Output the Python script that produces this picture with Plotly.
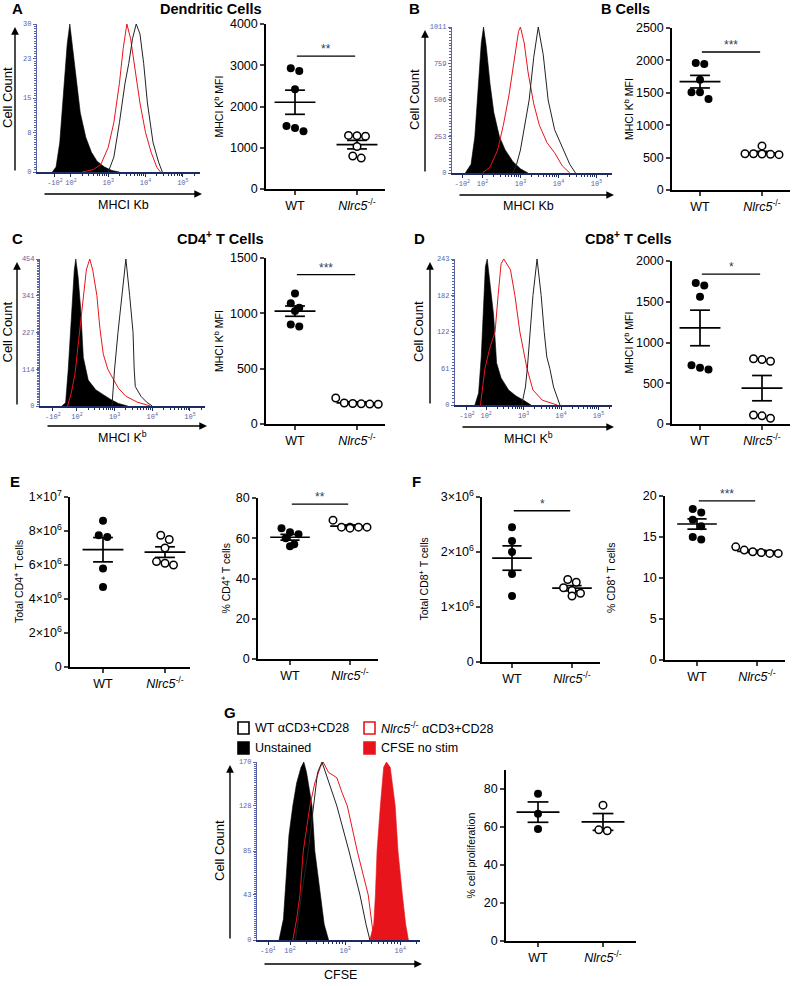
import plotly.graph_objects as go
import numpy as np

W, H = 795, 986
FONT = "Liberation Sans, Arial, sans-serif"
MONO = "Liberation Mono, DejaVu Sans Mono, monospace"
HIST_BLUE = "#5a63a6"
AXIS_NAVY = "#1d2b63"
RED = "#e8141b"

# ---------------- data ----------------
groups = ["WT", "<i>Nlrc5</i><sup>-/-</sup>"]

# dot plots (MFI / counts / percentages)
dc_wt = [2860, 2930, 2420, 1530, 1400, 1480]
dc_ko = [1290, 1280, 1300, 1030, 800, 750]
bcell_wt = [1945, 1960, 1700, 1510, 1405, 1510]
bcell_ko = [680, 560, 550, 545, 555, 560]
cd4_wt = [1180, 1090, 1050, 1020, 900, 880]
cd4_ko = [185, 180, 178, 182, 190, 235]
cd8_wt = [1700, 1730, 1560, 720, 690, 670]
cd8_ko = [800, 770, 790, 110, 70, 100]
cd4_total_wt = [8.6e6, 7.65e6, 7.75e6, 5.8e6, 4.7e6]
cd4_total_ko = [7.75e6, 7.5e6, 7.0e6, 6.2e6, 6.0e6, 6.1e6]
cd4_pct_wt = [63, 62, 65, 60, 57, 56]
cd4_pct_ko = [69, 65.5, 65.5, 65.5, 65.5, 65]
cd8_total_wt = [2.45e6, 2.2e6, 2.0e6, 1.6e6, 1.2e6]
cd8_total_ko = [1.5e6, 1.45e6, 1.35e6, 1.3e6, 1.25e6, 1.2e6]
cd8_pct_wt = [18.4, 17.1, 18.0, 16.3, 14.7, 15.0]
cd8_pct_ko = [13.4, 13.1, 13.0, 13.0, 13.2, 13.8]
prolif_wt = [77.5, 67, 59]
prolif_ko = [71.5, 58, 58.5]

# flow histograms: (position in decades, cell count)
a_unstained = [(1.5, 0), (1.6, 1), (1.7, 6), (1.8, 16), (1.9, 26), (1.97, 30), (2.05, 25), (2.15, 18),
               (2.25, 12), (2.4, 7), (2.55, 4), (2.7, 2.2), (2.9, 1.0), (3.1, 0.3), (3.3, 0)]
a_ko = [(2.3, 0), (2.6, 0.5), (2.8, 1.5), (3.0, 5), (3.15, 10), (3.3, 18), (3.4, 25), (3.5, 30), (3.6, 27),
        (3.7, 22), (3.85, 14), (4.0, 8), (4.15, 4), (4.3, 1), (4.4, 0)]
a_wt = [(3.0, 0), (3.15, 3), (3.3, 10), (3.45, 18), (3.55, 22), (3.65, 27), (3.75, 30), (3.85, 28),
        (3.95, 22), (4.05, 14), (4.2, 6), (4.35, 2), (4.45, 0)]

b_unstained = [(1.55, 0), (1.7, 60), (1.8, 250), (1.9, 600), (1.97, 900), (2.03, 1011), (2.1, 880),
               (2.2, 620), (2.3, 420), (2.45, 250), (2.6, 160), (2.8, 80), (3.0, 30), (3.2, 0)]
b_ko = [(2.0, 0), (2.2, 40), (2.4, 159), (2.55, 330), (2.7, 540), (2.85, 800), (2.95, 980), (3.0, 1011),
        (3.1, 900), (3.2, 700), (3.35, 480), (3.5, 330), (3.7, 210), (3.9, 140), (4.1, 50), (4.3, 0)]
b_wt = [(2.8, 0), (2.9, 60), (3.0, 159), (3.1, 300), (3.23, 505), (3.35, 800), (3.47, 1011), (3.6, 820),
        (3.73, 505), (3.9, 300), (4.13, 159), (4.3, 60), (4.45, 0)]

c_unstained = [(1.6, 0), (1.7, 10), (1.77, 114), (1.85, 280), (1.93, 420), (1.97, 454), (2.03, 400),
               (2.1, 300), (2.17, 150), (2.3, 80), (2.5, 50), (2.7, 35), (2.9, 20), (3.1, 8), (3.35, 0)]
c_ko = [(1.75, 0), (1.85, 40), (1.95, 100), (2.05, 200), (2.15, 320), (2.25, 420), (2.34, 454), (2.42, 420),
        (2.53, 341), (2.61, 240), (2.7, 160), (2.82, 114), (2.95, 86), (3.1, 55), (3.3, 30), (3.6, 12),
        (3.95, 0)]
c_wt = [(2.93, 0), (3.0, 114), (3.09, 227), (3.19, 341), (3.3, 454), (3.4, 341), (3.49, 227), (3.52, 114),
        (3.55, 60), (3.7, 30), (3.85, 12), (4.0, 0)]

d_unstained = [(1.7, 0), (1.8, 20), (1.87, 80), (1.93, 160), (1.98, 230), (2.03, 243), (2.1, 200),
               (2.2, 150), (2.28, 70), (2.4, 45), (2.6, 25), (2.8, 15), (3.0, 8), (3.2, 0)]
d_ko = [(1.85, 0), (1.97, 61), (2.1, 95), (2.24, 122), (2.32, 182), (2.4, 235), (2.47, 243), (2.55, 235),
        (2.65, 225), (2.77, 182), (2.9, 122), (3.0, 90), (3.09, 61), (3.25, 25), (3.5, 8), (3.9, 0)]
d_wt = [(2.95, 0), (3.05, 30), (3.1, 61), (3.17, 122), (3.25, 182), (3.36, 243), (3.47, 182), (3.55, 122),
        (3.62, 80), (3.7, 61), (3.8, 30), (3.97, 0)]

g_unstained = [(1.8, 0), (1.88, 20), (1.93, 60), (1.98, 100), (2.05, 128), (2.12, 150), (2.2, 165),
               (2.25, 170), (2.3, 160), (2.4, 128), (2.45, 85), (2.55, 43), (2.62, 15), (2.7, 0)]
g_ko = [(2.05, 0), (2.12, 20), (2.18, 43), (2.24, 85), (2.36, 128), (2.45, 150), (2.55, 165), (2.6, 170),
        (2.7, 160), (2.85, 155), (2.95, 140), (3.04, 128), (3.22, 85), (3.42, 43), (3.5, 10), (3.55, 0)]
g_wt = [(2.1, 0), (2.2, 40), (2.33, 85), (2.42, 128), (2.5, 160), (2.58, 170), (2.68, 155), (2.85, 128),
        (3.07, 85), (3.27, 43), (3.38, 15), (3.45, 0)]
g_nostim = [(3.45, 0), (3.52, 15), (3.55, 43), (3.58, 85), (3.64, 128), (3.7, 165), (3.75, 170),
            (3.82, 165), (3.91, 128), (3.96, 85), (4.04, 43), (4.1, 15), (4.15, 0)]

decade_labels = ["-10<sup>2</sup>", "10<sup>2</sup>", "10<sup>3</sup>", "10<sup>4</sup>", "10<sup>5</sup>"]
g_decade_labels = ["-10<sup>1</sup>", "10<sup>2</sup>", "10<sup>3</sup>", "10<sup>4</sup>"]

# ---------------- figure helpers ----------------
fig = go.Figure()
layout = {}
annotations = []
shapes = []
counter = [0]


def new_axes(x0, x1, y0, y1):
    counter[0] += 1
    s = "" if counter[0] == 1 else str(counter[0])
    layout["xaxis" + s] = dict(domain=[x0 / W, x1 / W], anchor="y" + s, showgrid=False, zeroline=False,
                               automargin=False)
    layout["yaxis" + s] = dict(domain=[1 - y1 / H, 1 - y0 / H], anchor="x" + s, showgrid=False, zeroline=False,
                               automargin=False)
    return s


def text(x, y, s, size=12, bold=False, angle=0, xanchor="center", color="black"):
    if bold:
        s = "<b>" + s + "</b>"
    annotations.append(dict(x=x / W, y=1 - y / H, xref="paper", yref="paper", text=s, showarrow=False,
                            textangle=angle, xanchor=xanchor, yanchor="middle",
                            font=dict(family=FONT, size=size, color=color)))


def arrow(x0, y0, x1, y1):
    annotations.append(dict(x=x1 / W, y=1 - y1 / H, xref="paper", yref="paper", text="", showarrow=True,
                            ax=x0 - x1, ay=y0 - y1, axref="pixel", ayref="pixel", arrowhead=2,
                            arrowsize=1.1, arrowwidth=1.4, arrowcolor="black"))


def histogram(box, urange, ymax, yticks, tickpos, ticklabels, curves, vert_x, horiz_y, xlabel, label_x,
              count_x):
    s = new_axes(*box)
    for pts, kind in curves:
        u, c = zip(*pts)
        if kind in ("black_fill", "red_fill"):
            col = "black" if kind == "black_fill" else RED
            fig.add_trace(go.Scatter(x=u, y=c, mode="lines", fill="tozeroy", fillcolor=col,
                                     line=dict(color=col, width=0.6), xaxis="x" + s, yaxis="y" + s))
        else:
            col = RED if kind == "red_line" else "#222222"
            fig.add_trace(go.Scatter(x=u, y=c, mode="lines", line=dict(color=col, width=1),
                                     xaxis="x" + s, yaxis="y" + s))
    minor = [d + np.log10(k) for d in range(2, 6) for k in range(2, 10)]
    layout["xaxis" + s].update(range=urange, tickvals=tickpos, ticktext=ticklabels, showline=True,
                               linecolor=AXIS_NAVY, linewidth=2, ticks="outside", ticklen=3, tickcolor=AXIS_NAVY,
                               tickfont=dict(family=MONO, size=7, color=HIST_BLUE),
                               minor=dict(tickvals=minor, ticks="outside", ticklen=2, tickcolor=AXIS_NAVY))
    layout["yaxis" + s].update(range=[0, ymax], tickvals=yticks, showline=True, linecolor=HIST_BLUE,
                               linewidth=1.2, ticks="outside", ticklen=3, tickcolor=HIST_BLUE,
                               tickfont=dict(family=MONO, size=7, color=HIST_BLUE),
                               minor=dict(ticks="outside", ticklen=2, tickcolor=HIST_BLUE, nticks=20))
    x0, x1, y0, y1 = box
    arrow(vert_x, y1, vert_x, y0 + 3)
    arrow(x0 + 6, horiz_y, x1 + 2, horiz_y)
    text(count_x, (y0 + y1) / 2, "Cell Count", size=13, angle=-90)
    text(label_x, horiz_y + 11, xlabel, size=12.5)


def swarm(vals, thresh, step):
    vals = np.asarray(vals, dtype=float)
    order = np.argsort(-vals)
    rows = []
    for i in order:
        if rows and vals[rows[-1][0]] - vals[i] < thresh:
            rows[-1].append(i)
        else:
            rows.append([i])
    off = np.zeros(len(vals))
    for r in rows:
        k = len(r)
        for j, i in enumerate(r):
            off[i] = (j - (k - 1) / 2) * step
    return off


def dot_plot(box, wt_px, ko_px, ymax, dtick, wt, ko, ytitle, title_x, sig=None, ticktext=None):
    x0, x1, y0, y1 = box
    s = new_axes(*box)
    unit = ko_px - wt_px
    xr = [(x0 - wt_px) / unit, (x1 - wt_px) / unit]
    thresh = 7.5 * ymax / (y1 - y0)
    step = 8.5 / unit
    for g, vals in enumerate([wt, ko]):
        vals = np.asarray(vals, dtype=float)
        off = swarm(vals, thresh, step)
        m = vals.mean()
        se = vals.std(ddof=1) / np.sqrt(len(vals))
        fig.add_trace(go.Scatter(
            x=[g - 0.33, g + 0.33, None, g, g, None, g - 0.16, g + 0.16, None, g - 0.16, g + 0.16],
            y=[m, m, None, m - se, m + se, None, m + se, m + se, None, m - se, m - se],
            mode="lines", line=dict(color="black", width=1.7), xaxis="x" + s, yaxis="y" + s))
        if g == 0:
            mk = dict(size=8, color="black", line=dict(width=0))
        else:
            mk = dict(size=7.5, color="white", line=dict(color="black", width=1.5))
        fig.add_trace(go.Scatter(x=g + off, y=vals, mode="markers", cliponaxis=False, marker=mk,
                                 xaxis="x" + s, yaxis="y" + s))
    if sig:
        yv, stars = sig
        fig.add_trace(go.Scatter(x=[0.03, 0.97], y=[yv, yv], mode="lines", line=dict(color="black", width=1.3),
                                 xaxis="x" + s, yaxis="y" + s))
        annotations.append(dict(x=0.5, y=yv, xref="x" + s, yref="y" + s, text=stars, showarrow=False,
                                yanchor="bottom", yshift=-2, font=dict(family=FONT, size=12)))
    tv = list(np.arange(0, ymax + dtick / 2, dtick))
    yax = dict(range=[0, ymax], tickvals=tv, showline=True, linecolor="black", linewidth=1.5,
               ticks="outside", ticklen=4, tickwidth=1.5, tickfont=dict(family=FONT, size=12.5, color="black"))
    if ticktext:
        yax["ticktext"] = ticktext
    layout["yaxis" + s].update(yax)
    layout["xaxis" + s].update(range=xr, tickvals=[0, 1], ticktext=groups, showline=True, linecolor="black",
                               linewidth=1.5, ticks="outside", ticklen=4, tickwidth=1.5,
                               tickfont=dict(family=FONT, size=12.5, color="black"))
    text(title_x, (y0 + y1) / 2, ytitle, size=10.5, angle=-90)


# ---------------- panels ----------------
kinds = ["black_fill", "red_line", "wt_line"]

# A
histogram((37, 200, 24, 172), [1.09, 5.46], 30, [0, 8, 15, 23, 30], [1.57, 2, 3, 4, 5], decade_labels,
          list(zip([a_unstained, a_ko, a_wt], kinds)), 15, 194, "MHCI Kb", 123, 8)
dot_plot((266, 385, 24, 189), 295, 357, 4000, 1000, dc_wt, dc_ko, "MHCI K<sup>b</sup> MFI", 218,
         sig=(3220, "**"))
text(10, 9, "A", 15, bold=True, xanchor="left")
text(211, 9, "Dendritic Cells", 14.5, bold=True)

# B
histogram((452, 612, 27, 173), [1.2, 5.41], 1011, [0, 253, 506, 759, 1011], [1.47, 2, 3, 4, 5],
          decade_labels, list(zip([b_unstained, b_ko, b_wt], kinds)), 425, 195, "MHCI Kb", 528, 414)
dot_plot((672, 790, 28, 190), 700, 762, 2500, 500, bcell_wt, bcell_ko, "MHCI K<sup>b</sup> MFI", 628,
         sig=(2130, "***"))
text(407, 9, "B", 15, bold=True, xanchor="left")
text(625, 9, "B Cells", 14.5, bold=True)

# C
histogram((40, 205, 259, 406), [1.02, 5.4], 454, [0, 114, 227, 341, 454], [1.36, 2, 3, 4, 5],
          decade_labels, list(zip([c_unstained, c_ko, c_wt], kinds)), 17, 426, "MHCI K<sup>b</sup>", 122, 7)
dot_plot((266, 385, 258, 424), 295, 357, 1500, 500, cd4_wt, cd4_ko, "MHCI K<sup>b</sup> MFI", 218,
         sig=(1350, "***"))
text(10, 238, "C", 15, bold=True, xanchor="left")
text(220, 238, "CD4<sup>+</sup> T Cells", 14.5, bold=True)

# D
histogram((455, 612, 259, 405), [1.17, 5.36], 243, [0, 61, 122, 182, 243], [1.49, 2, 3, 4, 5],
          decade_labels, list(zip([d_unstained, d_ko, d_wt], kinds)), 430, 427, "MHCI K<sup>b</sup>", 528, 419)
dot_plot((672, 790, 261, 424), 700, 762, 2000, 500, cd8_wt, cd8_ko, "MHCI K<sup>b</sup> MFI", 628,
         sig=(1840, "*"))
text(412, 238, "D", 15, bold=True, xanchor="left")
text(628, 238, "CD8<sup>+</sup> T Cells", 14.5, bold=True)

# E
sci7 = ["0", "2×10<sup>6</sup>", "4×10<sup>6</sup>", "6×10<sup>6</sup>", "8×10<sup>6</sup>", "1×10<sup>7</sup>"]
dot_plot((70, 190, 497, 667), 103, 165, 1e7, 2e6, cd4_total_wt, cd4_total_ko,
         "Total CD4<sup>+</sup> T cells", 18, ticktext=sci7)
dot_plot((258, 378, 498, 659), 290, 350, 80, 20, cd4_pct_wt, cd4_pct_ko, "% CD4<sup>+</sup> T cells", 225,
         sig=(77, "**"))
text(8, 481, "E", 15, bold=True, xanchor="left")

# F
sci6 = ["0", "1×10<sup>6</sup>", "2×10<sup>6</sup>", "3×10<sup>6</sup>"]
dot_plot((482, 600, 497, 662), 512, 572, 3e6, 1e6, cd8_total_wt, cd8_total_ko,
         "Total CD8<sup>+</sup> T cells", 423, sig=(2.75e6, "*"), ticktext=sci6)
dot_plot((665, 785, 496, 660), 697, 757, 20, 5, cd8_pct_wt, cd8_pct_ko, "% CD8<sup>+</sup> T cells", 610,
         sig=(19.4, "***"))
text(410, 481, "F", 15, bold=True, xanchor="left")

# G
histogram((257, 420, 762, 940), [1.4, 4.36], 170, [0, 43, 85, 128, 170], [1.6, 2, 3, 4],
          g_decade_labels,
          [(g_unstained, "black_fill"), (g_nostim, "red_fill"), (g_ko, "red_line"), (g_wt, "wt_line")],
          230, 964, "CFSE", 340, 219)
dot_plot((506, 636, 770, 941), 538, 603, 90, 20, prolif_wt, prolif_ko, "% cell proliferation", 470)
layout["yaxis" + str(counter[0])].update(tickvals=[0, 20, 40, 60, 80])
text(222, 712, "G", 15, bold=True, xanchor="left")

# G legend
legend_items = [("WT αCD3+CD28", "black", False, 238, 728),
                ("<i>Nlrc5</i><sup>-/-</sup> αCD3+CD28", RED, False, 364, 728),
                ("Unstained", "black", True, 238, 748),
                ("CFSE no stim", RED, True, 364, 748)]
for label, col, filled, lx, ly in legend_items:
    shapes.append(dict(type="rect", xref="paper", yref="paper", x0=lx / W, x1=(lx + 11) / W,
                       y0=1 - (ly + 6) / H, y1=1 - (ly - 6) / H, line=dict(color=col, width=1.6),
                       fillcolor=col if filled else "white"))
    text(lx + 15, ly, label, 12.5, xanchor="left")

fig.update_layout(**layout)
fig.update_layout(width=W, height=H, margin=dict(l=0, r=0, t=0, b=0, autoexpand=False),
                  paper_bgcolor="white", plot_bgcolor="white", showlegend=False,
                  annotations=annotations, shapes=shapes, font=dict(family=FONT))
fig.write_html("out.html", config={"displayModeBar": False},
               post_script="document.body.style.margin='0';document.body.style.overflow='hidden';")
